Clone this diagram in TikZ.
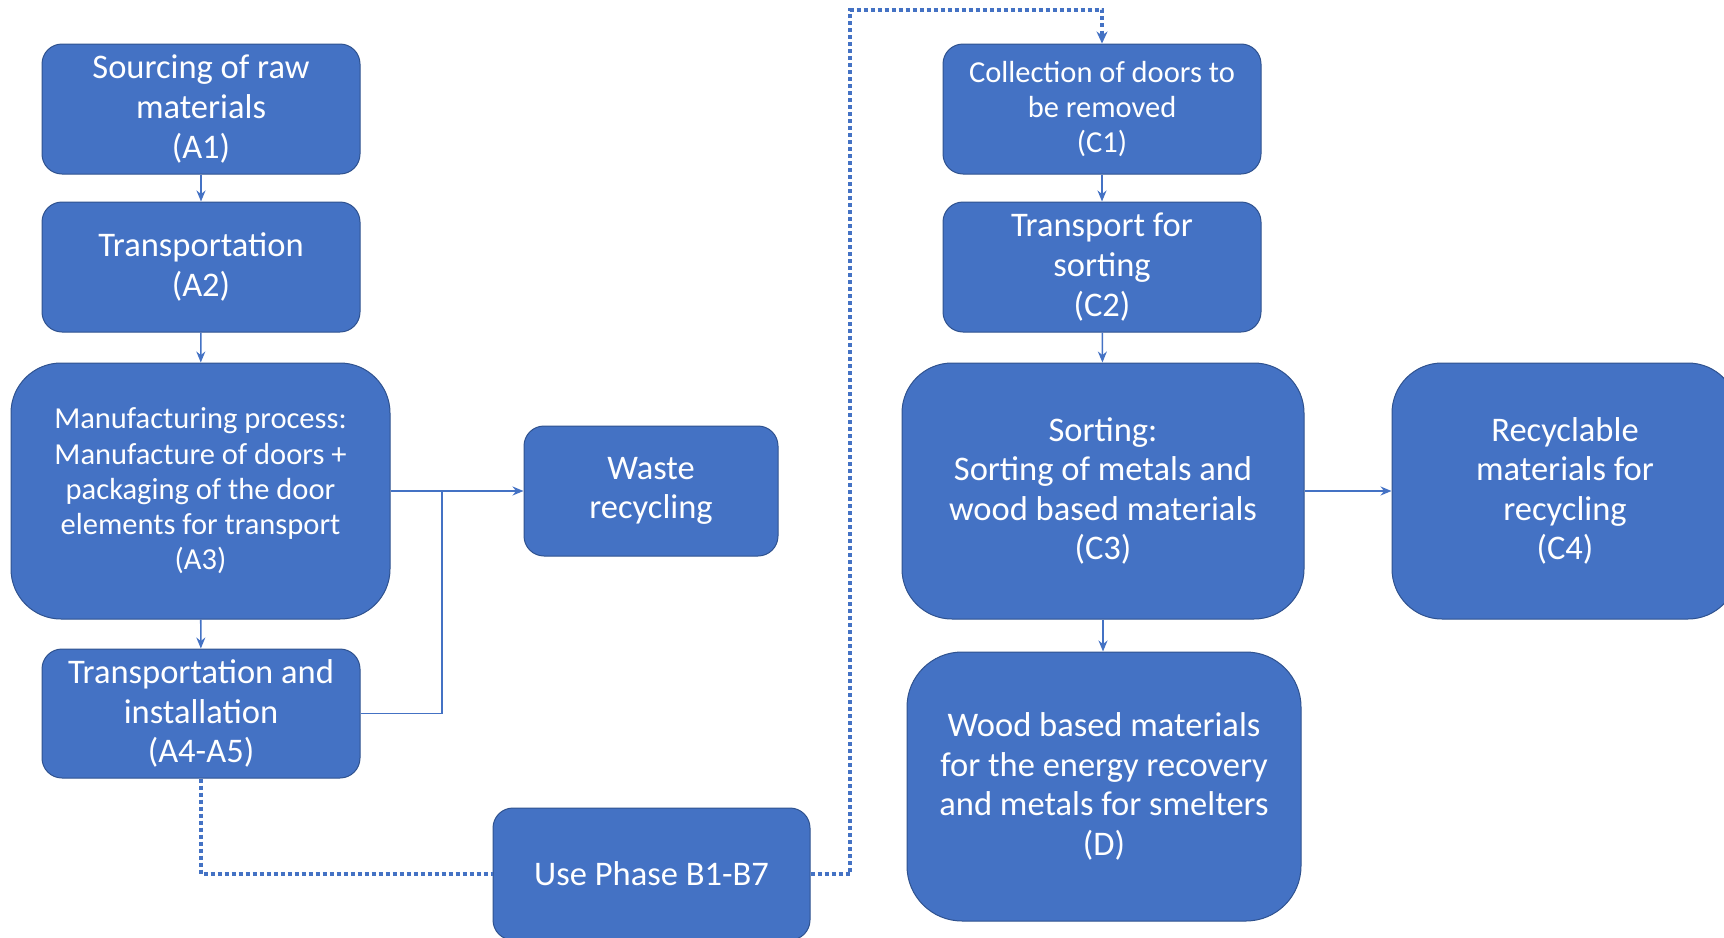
\documentclass[tikz,border=0pt]{standalone}
\usepackage{fontspec}
\setmainfont{Carlito}
\usetikzlibrary{arrows.meta}
\definecolor{boxblue}{HTML}{4472C4}
\definecolor{boxedge}{HTML}{2F528F}
\definecolor{linkblue}{HTML}{4472C4}
\tikzset{
  box/.style={draw=boxedge, line width=1pt, fill=boxblue, text=white, align=center,
    rounded corners=20pt, inner sep=0pt, font=\fontsize{34.5}{39.6}\selectfont},
  bigbox/.style={box, rounded corners=50pt},
  smalltext/.style={font=\fontsize{30.5}{35.2}\selectfont},
  link/.style={draw=linkblue, line width=1.6pt, -{Stealth[length=11pt,width=9pt]}},
  plainlink/.style={draw=linkblue, line width=1.6pt},
  dotlink/.style={draw=linkblue, line width=3.5pt, dash pattern=on 4pt off 3pt},
}
\begin{document}
\begin{tikzpicture}[x=1pt, y=-1pt]
\useasboundingbox (0,0) rectangle (1724,937);
\clip (0,0) rectangle (1724,937);
\node[box, minimum width=318pt, minimum height=130pt] (a1) at (201,109) {Sourcing of raw\\materials\\(A1)};
\node[box, minimum width=318pt, minimum height=130pt] (a2) at (201,267) {Transportation\\(A2)};
\node[bigbox, smalltext, minimum width=379pt, minimum height=256pt] (a3) at (200.5,491) {Manufacturing process:\\Manufacture of doors +\\packaging of the door\\elements for transport\\(A3)};
\node[box, minimum width=318pt, minimum height=129pt] (a4) at (201,713.5) {Transportation and\\installation\\(A4-A5)};
\node[box, minimum width=254pt, minimum height=130pt] (w) at (651,491) {Waste\\recycling};
\node[box, minimum width=317pt, minimum height=132pt] (u) at (651.5,874) {Use Phase B1-B7};
\node[box, smalltext, minimum width=318pt, minimum height=130pt] (c1) at (1102,109) {Collection of doors to\\be removed\\(C1)};
\node[box, minimum width=318pt, minimum height=130pt] (c2) at (1102,267) {Transport for\\sorting\\(C2)};
\node[bigbox, minimum width=402pt, minimum height=256pt] (c3) at (1103,491) {Sorting:\\Sorting of metals and\\wood based materials\\(C3)};
\node[bigbox, minimum width=346pt, minimum height=256pt] (c4) at (1565,491) {Recyclable\\materials for\\recycling\\(C4)};
\node[bigbox, rounded corners=55pt, minimum width=394pt, minimum height=269pt] (d) at (1104,786.5) {Wood based materials\\for the energy recovery\\and metals for smelters\\(D)};
\coordinate (j) at (442,491);
\coordinate (top) at (850,10);
\draw[link] (a1) -- (a2);
\draw[link] (a2) -- (a3);
\draw[link] (a3) -- (a4);
\draw[link] (a3.east) -- (w.west);
\draw[plainlink] (a4.east) -| (j);
\draw[dotlink] (a4.south) |- (u.west);
\draw[dotlink, -{Stealth[length=12pt,width=11pt]}] (u.east) -| (top) -| (c1.north);
\draw[link] (c1) -- (c2);
\draw[link] (c2) -- (c3);
\draw[link] (c3.east) -- (c4.west);
\draw[link] (c3.south) -- (c3.south |- d.north);
\end{tikzpicture}
\end{document}
